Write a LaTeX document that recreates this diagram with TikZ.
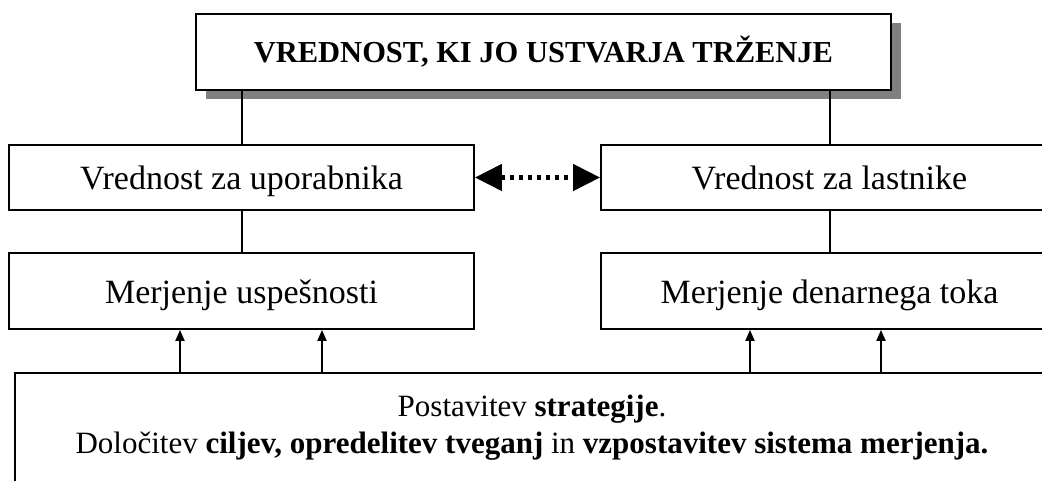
\documentclass[tikz,border=0pt]{standalone}
\usepackage{fontspec}
\setmainfont{Liberation Serif}
\usetikzlibrary{arrows.meta,shadows}
\begin{document}
\begin{tikzpicture}[x=1pt,y=-1pt,
  box/.style={draw,line width=1.8pt,rectangle,fill=white,inner sep=0pt},
  lbl/.style={font=\fontsize{34}{40}\selectfont,text height=30pt,text depth=5pt},
  conn/.style={line width=2pt},
  up/.style={line width=2pt,-{Triangle[length=11pt,width=9pt]}},
  dotarrow/.style={line width=4.5pt,dash pattern=on 4.5pt off 4.5pt,
    {Triangle[length=27pt,width=26pt]}-{Triangle[length=27pt,width=26pt]}}
]
\useasboundingbox (0,0) rectangle (1042,481);
\clip (0,0) rectangle (1042,481);

\node[box,minimum width=695pt,minimum height=76pt,
  drop shadow={shadow xshift=10pt,shadow yshift=-9pt,fill=black!50,opacity=1},
  text height=27pt,text depth=5pt,
  font=\fontsize{30.5}{36}\selectfont\bfseries] (top) at (543.5,52) {VREDNOST, KI JO USTVARJA TRŽENJE};

\node[box,lbl,minimum width=465pt,minimum height=65pt] (vu) at (241.5,177.5) {Vrednost za uporabnika};
\node[box,lbl,minimum width=457pt,minimum height=65pt] (vl) at (829.5,177.5) {Vrednost za lastnike};
\node[box,lbl,minimum width=465pt,minimum height=76pt] (mu) at (241.5,291) {Merjenje uspešnosti};
\node[box,lbl,minimum width=457pt,minimum height=76pt] (md) at (829.5,291) {Merjenje denarnega toka};

\node[box,minimum width=1060pt,minimum height=160pt,anchor=north west] (base) at (14,372) {};
\node[font=\fontsize{31}{37}\selectfont,align=center] (basetext) at (532,428)
  {Postavitev \textbf{strategije}.\\
   Določitev \textbf{ciljev, opredelitev tveganj} in \textbf{vzpostavitev sistema merjenja.}};

\draw[conn] (vu.north) -- (vu.north |- top.south);
\draw[conn] (vl.north) -- (vl.north |- top.south);
\draw[conn] (vu.south) -- (mu.north);
\draw[conn] (vl.south) -- (md.north);

\draw[dotarrow] (vu.east) -- (vl.west);

\coordinate (a1) at ([xshift=-61.5pt]mu.south);
\coordinate (a2) at ([xshift=80.5pt]mu.south);
\coordinate (a3) at ([xshift=-79.5pt]md.south);
\coordinate (a4) at ([xshift=51.5pt]md.south);
\draw[up] (a1 |- base.north) -- (a1);
\draw[up] (a2 |- base.north) -- (a2);
\draw[up] (a3 |- base.north) -- (a3);
\draw[up] (a4 |- base.north) -- (a4);
\end{tikzpicture}
\end{document}
